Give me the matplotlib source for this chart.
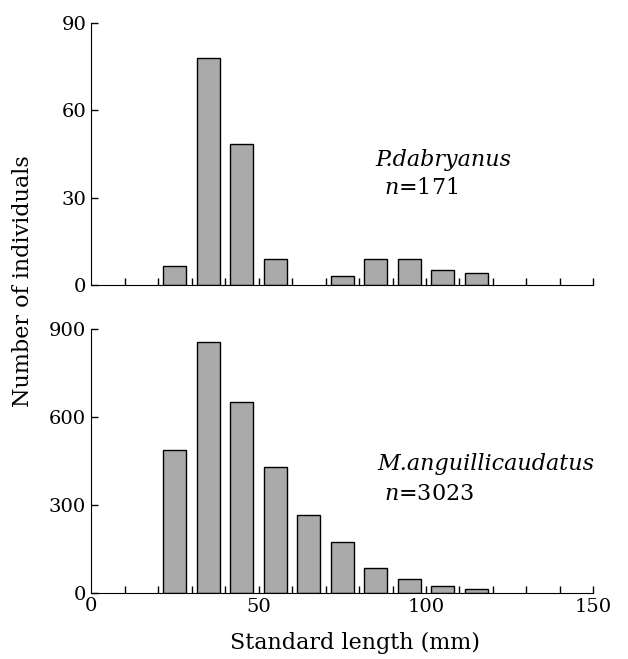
import numpy as np
import matplotlib
matplotlib.use("Agg")
import matplotlib.pyplot as plt

plt.rcParams['font.family'] = 'DejaVu Serif'
plt.rcParams['mathtext.fontset'] = 'dejavuserif'

# class midpoints (mm) and counts
length_mid = [25, 35, 45, 55, 65, 75, 85, 95, 105, 115]
count_pd = [6.6, 78, 48.4, 9.2, 0, 3.3, 9.2, 9.2, 5.2, 4.2]
count_ma = [487, 858, 650, 430, 266, 174, 83, 48, 22, 14]

xticks = np.arange(10, 151, 10)
yticks_pd = [0, 30, 60, 90]
yticks_ma = [0, 300, 600, 900]

TICK_FS = 14
TEXT_FS = 16

fig = plt.figure(figsize=(6.28, 6.59), dpi=100)
ax1 = fig.add_axes([0.145, 0.567, 0.80, 0.3985])
ax2 = fig.add_axes([0.145, 0.1006, 0.80, 0.3997])

def style(ax, counts, yticks, show_labels):
    x = np.array(length_mid)
    c = np.array(counts)
    keep = c > 0   # empty classes get no bar
    ax.bar(x[keep], c[keep], width=6.8, color='#aaaaaa', edgecolor='black', linewidth=1)
    ax.set_xlim(0, 150)
    ax.set_ylim(0, yticks[-1])
    ax.set_yticks(yticks)
    ax.spines['top'].set_visible(False)
    ax.spines['right'].set_visible(False)
    ax.tick_params(direction='in', length=5, width=1, labelsize=TICK_FS)
    ax.set_xticks(xticks)
    if show_labels:
        ax.set_xticklabels([str(v) if v in (50, 100, 150) else '' for v in xticks])
    else:
        ax.set_xticklabels([])

style(ax1, count_pd, yticks_pd, False)
style(ax2, count_ma, yticks_ma, True)
# zero label on the x axis of the lower panel
ax2.text(0, -0.015, '0', transform=ax2.get_xaxis_transform(), ha='center', va='top', fontsize=TICK_FS)

ax1.text(85, 41, 'P.dabryanus', style='italic', fontsize=TEXT_FS)
ax1.text(87.5, 31.3, r'$n$=171', fontsize=TEXT_FS)
ax2.text(85.5, 419, 'M.anguillicaudatus', style='italic', fontsize=TEXT_FS)
ax2.text(87.5, 316, r'$n$=3023', fontsize=TEXT_FS)

fig.text(0.037, 0.5736, 'Number of individuals', rotation=90, ha='center', va='center', fontsize=TEXT_FS)
fig.text(0.565, 0.024, 'Standard length (mm)', ha='center', va='center', fontsize=TEXT_FS)

fig.savefig('out.png', dpi=100)
